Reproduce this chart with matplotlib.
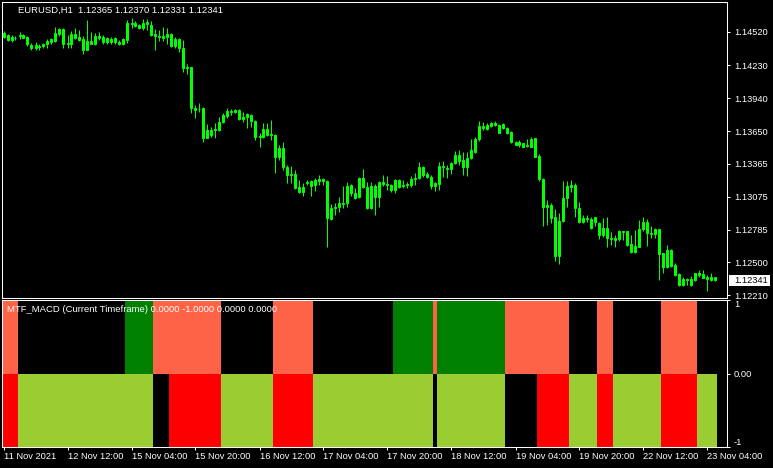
import matplotlib
matplotlib.use('Agg')
import matplotlib.pyplot as plt
import matplotlib.transforms as mtransforms
from matplotlib.patches import Rectangle
import numpy as np

plt.rcParams['font.family'] = ['Liberation Sans', 'DejaVu Sans']

# EURUSD H1 bars, 11 Nov 2021 20:00 .. 23 Nov 2021 06:00
opens = [
    1.14511, 1.14494, 1.14450, 1.14470, 1.14485, 1.14494, 1.14476, 1.14406, 1.14382, 1.14400,
    1.14397, 1.14415, 1.14435, 1.14441, 1.14505, 1.14546, 1.14415, 1.14415, 1.14502, 1.14476,
    1.14459, 1.14365, 1.14441, 1.14417, 1.14488, 1.14476, 1.14432, 1.14459, 1.14432, 1.14435,
    1.14415, 1.14452, 1.14599, 1.14596, 1.14581, 1.14555, 1.14588, 1.14581, 1.14500, 1.14488,
    1.14470, 1.14479, 1.14500, 1.14400, 1.14459, 1.14377, 1.14204, 1.14210, 1.13850, 1.13841,
    1.13850, 1.13592, 1.13660, 1.13660, 1.13660, 1.13727, 1.13785, 1.13826, 1.13820, 1.13835,
    1.13759, 1.13771, 1.13789, 1.13741, 1.13598, 1.13601, 1.13666, 1.13613, 1.13616, 1.13425,
    1.13499, 1.13332, 1.13262, 1.13273, 1.13157, 1.13118, 1.13192, 1.13212, 1.13174, 1.13215,
    1.13227, 1.13212, 1.12875, 1.12972, 1.12981, 1.13019, 1.13016, 1.13177, 1.13109, 1.13074,
    1.13236, 1.13162, 1.12972, 1.13168, 1.13069, 1.13206, 1.13186, 1.13174, 1.13133, 1.13221,
    1.13168, 1.13174, 1.13174, 1.13227, 1.13236, 1.13332, 1.13273, 1.13250, 1.13168, 1.13186,
    1.13344, 1.13323, 1.13315, 1.13367, 1.13440, 1.13396, 1.13337, 1.13411, 1.13469, 1.13578,
    1.13695, 1.13666, 1.13695, 1.13724, 1.13704, 1.13674, 1.13674, 1.13642, 1.13557, 1.13528,
    1.13543, 1.13519, 1.13513, 1.13587, 1.13431, 1.13227, 1.12986, 1.12998, 1.12893, 1.12553,
    1.12863, 1.13060, 1.13162, 1.13177, 1.12972, 1.12854, 1.12890, 1.12875, 1.12854, 1.12840,
    1.12738, 1.12796, 1.12714, 1.12709, 1.12700, 1.12770, 1.12770, 1.12659, 1.12586, 1.12635,
    1.12788, 1.12852, 1.12758, 1.12746, 1.12788, 1.12577, 1.12454, 1.12606, 1.12472, 1.12395,
    1.12299, 1.12349, 1.12349, 1.12343, 1.12401, 1.12393, 1.12366, 1.12343, 1.12365,
]
highs = [
    1.14529, 1.14502, 1.14494, 1.14488, 1.14520, 1.14498, 1.14485, 1.14423, 1.14432, 1.14415,
    1.14423, 1.14459, 1.14470, 1.14564, 1.14555, 1.14555, 1.14494, 1.14529, 1.14555, 1.14538,
    1.14488, 1.14625, 1.14520, 1.14511, 1.14520, 1.14494, 1.14476, 1.14476, 1.14476, 1.14447,
    1.14467, 1.14625, 1.14643, 1.14617, 1.14588, 1.14634, 1.14634, 1.14617, 1.14546, 1.14538,
    1.14564, 1.14555, 1.14511, 1.14479, 1.14467, 1.14450, 1.14239, 1.14215, 1.13879, 1.13897,
    1.13864, 1.13712, 1.13686, 1.13721, 1.13776, 1.13806, 1.13853, 1.13844, 1.13844, 1.13844,
    1.13820, 1.13809, 1.13800, 1.13747, 1.13636, 1.13724, 1.13724, 1.13747, 1.13624, 1.13528,
    1.13557, 1.13352, 1.13344, 1.13308, 1.13221, 1.13197, 1.13221, 1.13221, 1.13236, 1.13265,
    1.13236, 1.13221, 1.13010, 1.13021, 1.13074, 1.13168, 1.13206, 1.13186, 1.13150, 1.13244,
    1.13315, 1.13206, 1.13206, 1.13186, 1.13215, 1.13265, 1.13256, 1.13186, 1.13227, 1.13227,
    1.13221, 1.13203, 1.13256, 1.13279, 1.13381, 1.13344, 1.13294, 1.13265, 1.13206, 1.13381,
    1.13390, 1.13352, 1.13381, 1.13478, 1.13484, 1.13469, 1.13469, 1.13583, 1.13596, 1.13741,
    1.13732, 1.13718, 1.13732, 1.13741, 1.13712, 1.13718, 1.13689, 1.13654, 1.13566, 1.13572,
    1.13548, 1.13578, 1.13596, 1.13589, 1.13449, 1.13236, 1.13045, 1.13016, 1.12963, 1.12928,
    1.13215, 1.13215, 1.13221, 1.13192, 1.13027, 1.12911, 1.12913, 1.12893, 1.12898, 1.12852,
    1.12884, 1.12893, 1.12767, 1.12738, 1.12782, 1.12777, 1.12775, 1.12738, 1.12782, 1.12869,
    1.12893, 1.12875, 1.12817, 1.12796, 1.12793, 1.12582, 1.12650, 1.12615, 1.12489, 1.12401,
    1.12372, 1.12360, 1.12378, 1.12407, 1.12430, 1.12430, 1.12386, 1.12401, 1.12370,
]
lows = [
    1.14467, 1.14441, 1.14432, 1.14450, 1.14459, 1.14467, 1.14397, 1.14362, 1.14362, 1.14365,
    1.14380, 1.14382, 1.14415, 1.14432, 1.14488, 1.14380, 1.14380, 1.14380, 1.14459, 1.14441,
    1.14327, 1.14362, 1.14415, 1.14406, 1.14452, 1.14417, 1.14417, 1.14417, 1.14417, 1.14406,
    1.14406, 1.14423, 1.14555, 1.14567, 1.14546, 1.14538, 1.14538, 1.14488, 1.14362, 1.14441,
    1.14441, 1.14415, 1.14391, 1.14377, 1.14344, 1.14171, 1.14151, 1.13809, 1.13765, 1.13820,
    1.13557, 1.13587, 1.13601, 1.13587, 1.13651, 1.13718, 1.13765, 1.13791, 1.13806, 1.13747,
    1.13732, 1.13674, 1.13683, 1.13572, 1.13508, 1.13587, 1.13607, 1.13572, 1.13285, 1.13396,
    1.13308, 1.13192, 1.13192, 1.13139, 1.13109, 1.13080, 1.13177, 1.13080, 1.13127, 1.13177,
    1.13177, 1.12630, 1.12869, 1.12913, 1.12942, 1.12972, 1.12981, 1.13080, 1.13051, 1.13060,
    1.13148, 1.12963, 1.12963, 1.12913, 1.12981, 1.13168, 1.13133, 1.13118, 1.13104, 1.13148,
    1.13148, 1.13148, 1.13157, 1.13177, 1.13227, 1.13250, 1.13236, 1.13139, 1.13127, 1.13133,
    1.13250, 1.13236, 1.13273, 1.13361, 1.13352, 1.13265, 1.13256, 1.13402, 1.13455, 1.13566,
    1.13660, 1.13660, 1.13683, 1.13695, 1.13631, 1.13666, 1.13624, 1.13548, 1.13525, 1.13513,
    1.13508, 1.13513, 1.13508, 1.13420, 1.13215, 1.12817, 1.12826, 1.12840, 1.12512, 1.12483,
    1.12854, 1.12986, 1.13118, 1.12898, 1.12846, 1.12840, 1.12854, 1.12788, 1.12817, 1.12705,
    1.12723, 1.12635, 1.12650, 1.12635, 1.12688, 1.12694, 1.12641, 1.12582, 1.12577, 1.12630,
    1.12775, 1.12641, 1.12709, 1.12709, 1.12343, 1.12407, 1.12445, 1.12459, 1.12378, 1.12290,
    1.12290, 1.12299, 1.12290, 1.12337, 1.12372, 1.12357, 1.12249, 1.12337, 1.12331,
]
closes = [
    1.14476, 1.14450, 1.14476, 1.14463, 1.14489, 1.14470, 1.14415, 1.14382, 1.14406, 1.14391,
    1.14415, 1.14441, 1.14459, 1.14511, 1.14546, 1.14417, 1.14423, 1.14502, 1.14470, 1.14452,
    1.14365, 1.14441, 1.14417, 1.14488, 1.14465, 1.14432, 1.14465, 1.14432, 1.14465, 1.14415,
    1.14459, 1.14596, 1.14590, 1.14575, 1.14555, 1.14596, 1.14605, 1.14494, 1.14488, 1.14479,
    1.14488, 1.14500, 1.14400, 1.14459, 1.14377, 1.14201, 1.14215, 1.13850, 1.13838, 1.13847,
    1.13592, 1.13660, 1.13616, 1.13666, 1.13727, 1.13791, 1.13826, 1.13815, 1.13833, 1.13756,
    1.13771, 1.13800, 1.13741, 1.13601, 1.13607, 1.13666, 1.13618, 1.13624, 1.13425, 1.13499,
    1.13332, 1.13267, 1.13273, 1.13150, 1.13118, 1.13157, 1.13203, 1.13168, 1.13221, 1.13227,
    1.13209, 1.12884, 1.12972, 1.12986, 1.13016, 1.13010, 1.13168, 1.13109, 1.13060, 1.13236,
    1.13162, 1.12972, 1.13168, 1.13069, 1.13206, 1.13186, 1.13174, 1.13133, 1.13221, 1.13157,
    1.13177, 1.13186, 1.13227, 1.13236, 1.13332, 1.13265, 1.13244, 1.13168, 1.13197, 1.13344,
    1.13332, 1.13315, 1.13373, 1.13440, 1.13390, 1.13337, 1.13411, 1.13484, 1.13583, 1.13695,
    1.13673, 1.13704, 1.13724, 1.13704, 1.13636, 1.13712, 1.13636, 1.13557, 1.13531, 1.13557,
    1.13513, 1.13528, 1.13578, 1.13425, 1.13227, 1.12986, 1.12998, 1.12884, 1.12553, 1.12863,
    1.13060, 1.13168, 1.13177, 1.12972, 1.12854, 1.12890, 1.12875, 1.12796, 1.12893, 1.12740,
    1.12796, 1.12714, 1.12705, 1.12694, 1.12770, 1.12764, 1.12652, 1.12591, 1.12641, 1.12788,
    1.12852, 1.12758, 1.12746, 1.12788, 1.12571, 1.12454, 1.12606, 1.12465, 1.12386, 1.12299,
    1.12349, 1.12343, 1.12299, 1.12401, 1.12386, 1.12363, 1.12349, 1.12366, 1.12341,
]

price_ticks = [1.14520, 1.14230, 1.13940, 1.13650, 1.13365, 1.13075, 1.12785, 1.12500, 1.12210]
time_tick_bars = [0, 16, 32, 48, 64, 80, 96, 112, 128, 144, 160, 176]
time_labels = ['11 Nov 2021', '12 Nov 12:00', '15 Nov 04:00', '15 Nov 20:00', '16 Nov 12:00',
               '17 Nov 04:00', '17 Nov 20:00', '18 Nov 12:00', '19 Nov 04:00', '19 Nov 20:00',
               '22 Nov 12:00', '23 Nov 04:00']

# MTF_MACD states per bar, as runs (state, number of bars)
upper_runs = [('dn', 4), ('none', 27), ('up', 7), ('dn', 17), ('none', 13), ('dn', 10),
              ('none', 20), ('up', 10), ('dn', 1), ('up', 17), ('dn', 16), ('none', 7),
              ('dn', 4), ('none', 12), ('dn', 9), ('none', 5)]
lower_runs = [('dn', 4), ('up', 34), ('none', 4), ('dn', 13), ('up', 13), ('dn', 10),
              ('up', 30), ('none', 1), ('up', 17), ('none', 8), ('dn', 8), ('up', 7),
              ('dn', 4), ('up', 12), ('dn', 9), ('up', 5)]

W, H = 773, 468
fig = plt.figure(figsize=(W / 100, H / 100), dpi=100, facecolor='black')
ax = fig.add_axes([2 / W, 1 - 298 / H, 725 / W, 296 / H], facecolor='black')
ax2 = fig.add_axes([2 / W, 21 / H, 725 / W, 147 / H], facecolor='black')

o = np.array(opens)
h = np.array(highs)
l = np.array(lows)
c = np.array(closes)
x = np.arange(len(o))
green = '#00ff00'
ymin, ymax = 1.12185, 1.14783

ax.vlines(x, l, h, colors=green, linewidth=0.72)
# hollow bodies: 1px green outline, black inside
bot = np.minimum(o, c)
top = np.maximum(o, c)
ax.bar(x, top - bot, bottom=bot, width=0.5, color='black', edgecolor=green, linewidth=0.72)

ax.set_xlim(-0.375, 180.875)
ax.set_ylim(ymin, ymax)
ax.yaxis.tick_right()
ax.set_yticks(price_ticks)
ax.set_yticklabels(['%.5f' % p for p in price_ticks])
ax.set_xticks([])
ax.tick_params(axis='y', colors='white', length=2.5, width=0.75, pad=2.5, labelsize=6.7)

# last price marker
trans = mtransforms.blended_transform_factory(ax.transAxes, ax.transData)
ax.add_patch(Rectangle((727 / 725, c[-1] - 0.00048), 41 / 725, 0.00096, transform=trans,
                       facecolor='white', edgecolor='none', clip_on=False, zorder=5))
ax.text(749.5 / 725, c[-1], '%.5f' % c[-1], transform=trans, ha='center', va='center',
        color='black', fontsize=6.7, zorder=6, clip_on=False)

# indicator histogram, one block per run of equal state
up_col = {'up': '#008000', 'dn': '#ff6347'}
lo_col = {'up': '#9acd32', 'dn': '#ff0000'}

def draw_runs(runs, sign, cols):
    start = 0
    for s, n in runs:
        if s in cols:
            ax2.bar(start - 0.5, sign, width=n, align='edge', color=cols[s], linewidth=0)
        start += n

draw_runs(upper_runs, 1, up_col)
draw_runs(lower_runs, -1, lo_col)

ax2.set_xlim(-0.375, 180.875)
ax2.set_ylim(-1, 1)
ax2.yaxis.tick_right()
ax2.set_yticks([1, 0, -1])
ax2.set_yticklabels(['1', '0.00', '-1'])
labs = ax2.get_yticklabels()
labs[0].set_va('top')
labs[2].set_va('bottom')
ax2.set_xticks(time_tick_bars)
ax2.set_xticklabels(time_labels)
plt.setp(ax2.get_xticklabels(), ha='left')
ax2.tick_params(axis='y', colors='white', length=2.5, width=0.75, pad=2.5, labelsize=6.7)
ax2.tick_params(axis='x', colors='white', length=2.5, width=0.75, pad=1, labelsize=6.7)

for a in (ax, ax2):
    for sp in a.spines.values():
        sp.set_color('white')
        sp.set_linewidth(0.75)
        sp.set_zorder(10)

fig.text(18 / W, 1 - 10.5 / H, 'EURUSD,H1  1.12365 1.12370 1.12331 1.12341', color='white',
         fontsize=6.8, ha='left', va='center')
fig.text(7 / W, 1 - 309.5 / H, 'MTF_MACD (Current Timeframe) 0.0000 -1.0000 0.0000 0.0000',
         color='white', fontsize=6.8, ha='left', va='center')

fig.savefig('out.png', dpi=100, facecolor='black')
